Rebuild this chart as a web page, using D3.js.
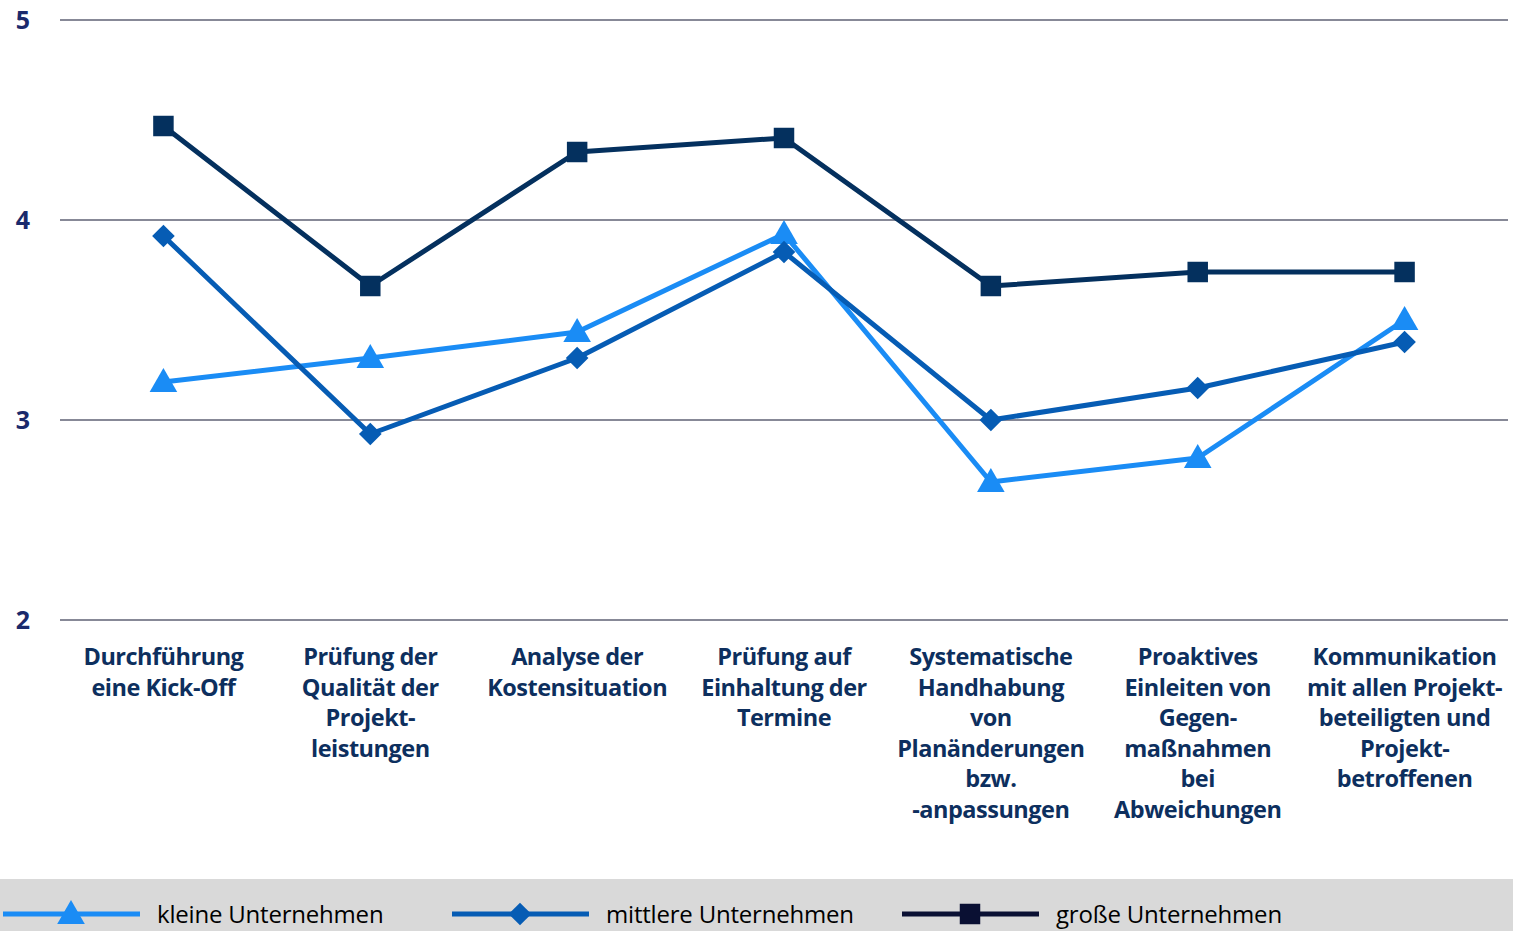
<!DOCTYPE html>
<html>
<head>
<meta charset="utf-8">
<script src="https://cdn.jsdelivr.net/npm/d3@7"></script>
<style>
  body { margin: 0; background: #fff; }
  svg { display: block; }
  .cat { font-family: "Open Sans", sans-serif; font-weight: 700; fill: #0d2f5e; }
  .ytick { font-family: "Open Sans", sans-serif; font-weight: 700; fill: #1a2a6c; }
  .leg { font-family: "Open Sans", sans-serif; fill: #000; }
</style>
</head>
<body>
<svg id="chart" width="1513" height="931"></svg>
<script>
// categories (line-broken as in the original)
const categories = [
  ["Durchführung", "eine Kick-Off"],
  ["Prüfung der", "Qualität der", "Projekt-", "leistungen"],
  ["Analyse der", "Kostensituation"],
  ["Prüfung auf", "Einhaltung der", "Termine"],
  ["Systematische", "Handhabung", "von", "Planänderungen", "bzw.", "-anpassungen"],
  ["Proaktives", "Einleiten von", "Gegen-", "maßnahmen", "bei", "Abweichungen"],
  ["Kommunikation", "mit allen Projekt-", "beteiligten und", "Projekt-", "betroffenen"]
];
const kleine   = [3.19, 3.31, 3.44, 3.93, 2.69, 2.81, 3.50];
const mittlere = [3.92, 2.93, 3.31, 3.84, 3.00, 3.16, 3.39];
const grosse   = [4.47, 3.67, 4.34, 4.41, 3.67, 3.74, 3.74];
const yTicks = [2, 3, 4, 5];

const series = [
  { name: "kleine Unternehmen",   values: kleine,   color: "#1a8cf5", legColor: "#1a8cf5", shape: "triangle" },
  { name: "mittlere Unternehmen", values: mittlere, color: "#065cb4", legColor: "#065cb4", shape: "diamond" },
  { name: "große Unternehmen",    values: grosse,   color: "#04305e", legColor: "#0a1033", shape: "square" }
];

const svg = d3.select("#chart");
const plotLeft = 60, plotRight = 1508, plotTop = 20, plotBottom = 620;

const x = d3.scalePoint().domain(d3.range(categories.length)).range([plotLeft, plotRight]).padding(0.5);
const y = d3.scaleLinear().domain([2, 5]).range([plotBottom, plotTop]);

// gridlines
svg.append("g").selectAll("line").data(yTicks).join("line")
  .attr("x1", plotLeft).attr("x2", plotRight)
  .attr("y1", d => y(d)).attr("y2", d => y(d))
  .attr("stroke", "#878997").attr("stroke-width", 2);

// y labels
svg.append("g").selectAll("text").data(yTicks).join("text")
  .attr("class", "ytick")
  .attr("x", 23).attr("y", d => y(d))
  .attr("dy", "0.35em")
  .attr("text-anchor", "middle")
  .attr("font-size", 25)
  .text(d => d);

// category labels
const catG = svg.append("g").selectAll("text").data(categories).join("text")
  .attr("class", "cat")
  .attr("font-size", 23.5)
  .attr("letter-spacing", -0.5)
  .attr("text-anchor", "middle")
  .attr("y", 657);
catG.selectAll("tspan").data((d, i) => d.map(t => ({ t, i }))).join("tspan")
  .attr("x", d => x(d.i))
  .attr("dy", (d, j) => j === 0 ? "0.35em" : 30.5)
  .text(d => d.t);

const symbolFor = {
  triangle: d3.symbol().type(d3.symbolTriangle).size(330),
  diamond: d3.symbol().type(d3.symbolSquare).size(256),
  square: d3.symbol().type(d3.symbolSquare).size(420)
};
const rot = shape => shape === "diamond" ? " rotate(45)" : "";
const dy = shape => shape === "triangle" ? 2 : 0;

const line = d3.line().x((d, i) => x(i)).y(d => y(d));

// draw order: large, small, medium
[series[2], series[0], series[1]].forEach(s => {
  const g = svg.append("g");
  g.append("path").datum(s.values)
    .attr("d", line)
    .attr("fill", "none")
    .attr("stroke", s.color)
    .attr("stroke-width", 5)
    .attr("stroke-linejoin", "round");
  g.selectAll("path.m").data(s.values).join("path")
    .attr("class", "m")
    .attr("transform", (d, i) => `translate(${x(i)},${y(d) + dy(s.shape)})` + rot(s.shape))
    .attr("d", symbolFor[s.shape])
    .attr("fill", s.color);
});

// legend band
svg.append("rect").attr("x", 0).attr("y", 879).attr("width", 1513).attr("height", 52).attr("fill", "#d9d9d9");
const legX = [3, 452, 902];
series.forEach((s, i) => {
  const g = svg.append("g").attr("transform", `translate(${legX[i]},914)`);
  g.append("line").attr("x1", 0).attr("x2", 137).attr("y1", 0).attr("y2", 0)
    .attr("stroke", s.legColor).attr("stroke-width", 5);
  g.append("path").attr("transform", `translate(68,${dy(s.shape)})` + rot(s.shape))
    .attr("d", symbolFor[s.shape]).attr("fill", s.legColor);
  g.append("text").attr("class", "leg")
    .attr("x", 154).attr("y", 0).attr("dy", "0.36em")
    .attr("font-size", 24)
    .attr("letter-spacing", -0.2)
    .text(s.name);
});
</script>
</body>
</html>
